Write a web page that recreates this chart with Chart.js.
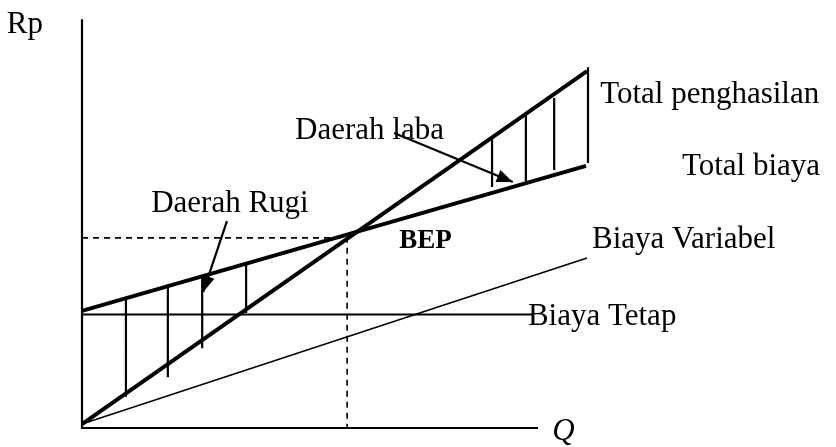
<!DOCTYPE html>
<html>
<head>
<meta charset="utf-8">
<script src="https://cdn.jsdelivr.net/npm/chart.js@4"></script>
<style>
  html, body { margin: 0; padding: 0; background: #fff; }
  #wrap { width: 836px; height: 447px; }
</style>
</head>
<body>
<div id="wrap"><canvas id="bep"></canvas></div>
<script>
// values (Q along x, Rp along y)
const axisQMax = 9.03, axisRpMax = 11.42;
const revenueQ = [0, 10], revenueRp = [0.11, 9.97];
const totalCostQ = [0, 9.98], totalCostRp = [3.27, 7.32];
const varCostQ = [0, 10], varCostRp = [0.11, 4.75];
const fixedCostQ = [0, 8.93], fixedCostRp = [3.17, 3.17];
const bepQ = 5.25, bepRp = 5.31;
const lossHatchQ = [0.87, 1.70, 2.38, 3.25];
const lossHatchTop = [3.58, 3.94, 4.22, 4.55];
const lossHatchBottom = [0.87, 1.42, 2.23, 3.21];
const profitHatchQ = [8.12, 8.79, 9.35, 10.02];
const profitHatchTop = [8.10, 8.74, 9.22, 10.08];
const profitHatchBottom = [6.73, 6.82, 7.21, 7.40];
const arrowFromQ = [2.87, 6.18], arrowFromRp = [5.78, 8.24];
const arrowToQ = [2.40, 8.53], arrowToRp = [3.80, 6.87];
const labels = ['Rp', 'Total penghasilan', 'Total biaya', 'Biaya Variabel', 'Biaya Tetap', 'BEP', 'Daerah laba', 'Daerah Rugi', 'Q'];
const labelQ = [-1.49, 10.26, 11.88, 10.10, 8.83, 6.28, 4.22, 1.37, 9.31];
const labelRp = [11.03, 9.08, 7.07, 5.03, 2.88, 5.03, 8.07, 6.03, -0.34];

const pts = (xs, ys) => xs.map((x, i) => ({x: x, y: ys[i]}));
// separate strokes in one dataset, broken by null points
const strokes = (x1, y1, x2, y2) => {
  const out = [];
  x1.forEach((x, i) => { out.push({x: x, y: y1[i]}, {x: x2[i], y: y2[i]}, {x: x2[i], y: null}); });
  return out;
};
const line = (data, w, extra) => Object.assign({
  data: data, borderColor: '#000', borderWidth: w, pointRadius: 0,
  showLine: true, fill: false, tension: 0, clip: false, spanGaps: false
}, extra || {});

const serif = '"Liberation Serif", "Times New Roman", serif';

const decor = {
  id: 'decor',
  afterDatasetsDraw(chart) {
    const ctx = chart.ctx, xs = chart.scales.x, ys = chart.scales.y;
    ctx.save();
    // arrow heads
    ctx.fillStyle = '#000';
    arrowToQ.forEach((q, i) => {
      const x1 = xs.getPixelForValue(arrowFromQ[i]), y1 = ys.getPixelForValue(arrowFromRp[i]);
      const x2 = xs.getPixelForValue(q), y2 = ys.getPixelForValue(arrowToRp[i]);
      const a = Math.atan2(y2 - y1, x2 - x1), len = 16, hw = 6.5;
      ctx.beginPath();
      ctx.moveTo(x2, y2);
      ctx.lineTo(x2 - len * Math.cos(a) + hw * Math.sin(a), y2 - len * Math.sin(a) - hw * Math.cos(a));
      ctx.lineTo(x2 - len * Math.cos(a) - hw * Math.sin(a), y2 - len * Math.sin(a) + hw * Math.cos(a));
      ctx.closePath();
      ctx.fill();
    });
    // texts
    ctx.textAlign = 'left';
    ctx.textBaseline = 'alphabetic';
    labels.forEach((t, i) => {
      if (t === 'BEP') ctx.font = 'bold 27px ' + serif;
      else if (t === 'Q') ctx.font = 'italic 31px ' + serif;
      else ctx.font = '31px ' + serif;
      ctx.fillText(t, xs.getPixelForValue(labelQ[i]), ys.getPixelForValue(labelRp[i]));
    });
    ctx.restore();
  }
};

new Chart(document.getElementById('bep'), {
  type: 'scatter',
  data: {
    datasets: [
      line([{x: 0, y: axisRpMax}, {x: 0, y: 0}, {x: axisQMax, y: 0}], 2.2),
      line(pts(revenueQ, revenueRp), 4),
      line(pts(totalCostQ, totalCostRp), 4),
      line(pts(varCostQ, varCostRp), 1.6),
      line(pts(fixedCostQ, fixedCostRp), 2),
      line([{x: 0, y: bepRp}, {x: bepQ, y: bepRp}, {x: bepQ, y: 0}], 1.6, {borderDash: [6, 5]}),
      line(strokes(lossHatchQ, lossHatchTop, lossHatchQ, lossHatchBottom), 2.2),
      line(strokes(profitHatchQ, profitHatchTop, profitHatchQ, profitHatchBottom), 2.2),
      line(strokes(arrowFromQ, arrowFromRp, arrowToQ, arrowToRp), 2.2)
    ]
  },
  options: {
    responsive: true,
    maintainAspectRatio: false,
    animation: false,
    events: [],
    layout: { padding: { left: 82, right: 148, top: 16.3, bottom: 19 } },
    scales: {
      x: { type: 'linear', min: 0, max: 12, display: false },
      y: { type: 'linear', min: 0, max: 11.5, display: false }
    },
    plugins: { legend: { display: false }, tooltip: { enabled: false } }
  },
  plugins: [decor]
});
</script>
</body>
</html>
